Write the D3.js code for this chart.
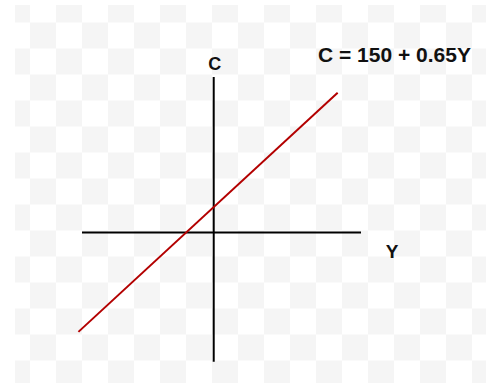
<!DOCTYPE html>
<html>
<head>
<meta charset="utf-8">
<script src="https://cdn.jsdelivr.net/npm/d3@7"></script>
<style>
  body { margin: 0; background: #fff; }
  svg { display: block; }
  text { font-family: "Liberation Sans", Arial, sans-serif; font-weight: bold; fill: #111; }
</style>
</head>
<body>
<svg id="chart"></svg>
<script>
// Consumption function C = 150 + 0.65Y, drawn as a single segment
const incomeY = [-1130, 1035];
const consumptionC = [-584.5, 822.75];

// axis extents (data units)
const yAxisExtent = [-1100, 1230];
const cAxisExtent = [-760, 915];

const equationLabel = "C = 150 + 0.65Y";
const xAxisLabel = "Y";
const yAxisLabel = "C";

const width = 487, height = 383;

const svg = d3.select("#chart")
    .attr("width", width)
    .attr("height", height);

// Checkerboard background (transparent image look)
const defs = svg.append("defs");
const pat = defs.append("pattern")
    .attr("id", "checker")
    .attr("patternUnits", "userSpaceOnUse")
    .attr("x", 4).attr("y", -3.5)
    .attr("width", 52).attr("height", 52);
pat.append("rect").attr("width", 52).attr("height", 52).attr("fill", "#ffffff");
pat.append("rect").attr("x", 0).attr("y", 0).attr("width", 26).attr("height", 26).attr("fill", "#f5f5f5");
pat.append("rect").attr("x", 26).attr("y", 26).attr("width", 26).attr("height", 26).attr("fill", "#f5f5f5");

svg.append("rect")
    .attr("x", 15).attr("y", 5)
    .attr("width", width - 16).attr("height", height - 5)
    .attr("fill", "url(#checker)");

// Scales
const x = d3.scaleLinear().domain(yAxisExtent).range([82, 361]);
const y = d3.scaleLinear().domain(cAxisExtent).range([361.7, 77]);

// Axes through the origin
svg.append("line")
    .attr("x1", x(yAxisExtent[0])).attr("x2", x(yAxisExtent[1]))
    .attr("y1", y(0)).attr("y2", y(0))
    .attr("stroke", "#000").attr("stroke-width", 2);

svg.append("line")
    .attr("x1", x(0)).attr("x2", x(0))
    .attr("y1", y(cAxisExtent[0])).attr("y2", y(cAxisExtent[1]))
    .attr("stroke", "#000").attr("stroke-width", 2);

// Consumption line
const lineData = incomeY.map((v, i) => ({ Y: v, C: consumptionC[i] }));
svg.append("path")
    .datum(lineData)
    .attr("d", d3.line().x(d => x(d.Y)).y(d => y(d.C)))
    .attr("fill", "none")
    .attr("stroke", "#b30000")
    .attr("stroke-width", 2);

// Labels
svg.append("text")
    .attr("x", x(0) + 1).attr("y", 70)
    .attr("text-anchor", "middle")
    .style("font-size", "18px")
    .text(yAxisLabel);

svg.append("text")
    .attr("x", 392).attr("y", 258)
    .attr("text-anchor", "middle")
    .style("font-size", "19px")
    .text(xAxisLabel);

svg.append("text")
    .attr("x", 318).attr("y", 62)
    .style("font-size", "21px")
    .text(equationLabel);
</script>
</body>
</html>
